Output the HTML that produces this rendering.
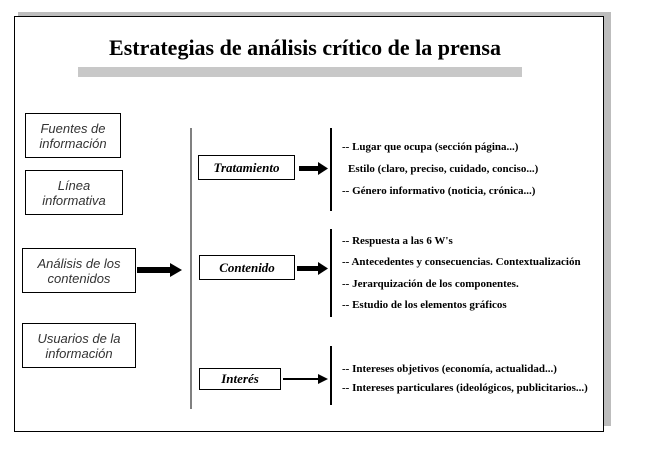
<!DOCTYPE html>
<html><head><meta charset="utf-8"><style>
body{margin:0;width:649px;height:452px;background:#fff;position:relative;overflow:hidden;font-family:"Liberation Serif",serif}
.a{position:absolute}
.box{position:absolute;border:1.5px solid #000;background:#fff;box-sizing:border-box;display:flex;align-items:center;justify-content:center;text-align:center}
.lb{font-family:"Liberation Sans",sans-serif;font-style:italic;font-size:13px;line-height:15px;color:#333}
.mb{font-style:italic;font-weight:bold;font-size:13px}
.t{position:absolute;left:342px;font-size:11px;font-weight:bold;white-space:nowrap}
.vl{position:absolute;width:2px;background:#000;left:330px}
</style></head><body>
<div class="a" style="left:18px;top:12px;width:593px;height:414px;background:#bdbdbd"></div>
<div class="a" style="left:14px;top:16px;width:590px;height:416px;border:1px solid #000;background:#fff;box-sizing:border-box"></div>
<div class="a" style="left:0;width:610px;top:35px;text-align:center;font-size:22px;font-weight:bold">Estrategias de análisis crítico de la prensa</div>
<div class="a" style="left:78px;top:67px;width:444px;height:10px;background:#c8c8c8"></div>

<div class="box lb" style="left:25px;top:113px;width:96px;height:45px">Fuentes de<br>información</div>
<div class="box lb" style="left:25px;top:170px;width:98px;height:45px">Línea<br>informativa</div>
<div class="box lb" style="left:22px;top:248px;width:114px;height:45px">Análisis de los<br>contenidos</div>
<div class="box lb" style="left:22px;top:323px;width:114px;height:45px">Usuarios de la<br>información</div>

<svg class="a" style="left:0;top:0" width="649" height="452">
<line x1="191" y1="128" x2="191" y2="409" stroke="#000" stroke-width="1"/>
<rect x="137" y="267" width="34" height="6" fill="#000"/><polygon points="170,263 182,270 170,277" fill="#000"/>
<rect x="299" y="166" width="20" height="5" fill="#000"/><polygon points="318,162 328,168.5 318,175" fill="#000"/>
<rect x="297" y="266" width="22" height="5" fill="#000"/><polygon points="318,262 328,268.5 318,275" fill="#000"/>
<rect x="283" y="378" width="36" height="2" fill="#000"/><polygon points="318,374 328,379 318,384" fill="#000"/>
</svg>

<div class="box mb" style="left:198px;top:155px;width:97px;height:25px">Tratamiento</div>
<div class="box mb" style="left:199px;top:255px;width:96px;height:25px">Contenido</div>
<div class="box mb" style="left:199px;top:368px;width:82px;height:22px">Interés</div>

<div class="vl" style="top:128px;height:83px"></div>
<div class="vl" style="top:229px;height:88px"></div>
<div class="vl" style="top:346px;height:59px"></div>

<div class="t" style="top:141px">-- Lugar que ocupa (sección página...)</div>
<div class="t" style="top:163px;left:348px">Estilo (claro, preciso, cuidado, conciso...)</div>
<div class="t" style="top:185px">-- Género informativo (noticia, crónica...)</div>
<div class="t" style="top:235px">-- Respuesta a las 6 W's</div>
<div class="t" style="top:256px">-- Antecedentes y consecuencias. Contextualización</div>
<div class="t" style="top:278px">-- Jerarquización de los componentes.</div>
<div class="t" style="top:299px">-- Estudio de los elementos gráficos</div>
<div class="t" style="top:363px">-- Intereses objetivos (economía, actualidad...)</div>
<div class="t" style="top:382px">-- Intereses particulares (ideológicos, publicitarios...)</div>
</body></html>
